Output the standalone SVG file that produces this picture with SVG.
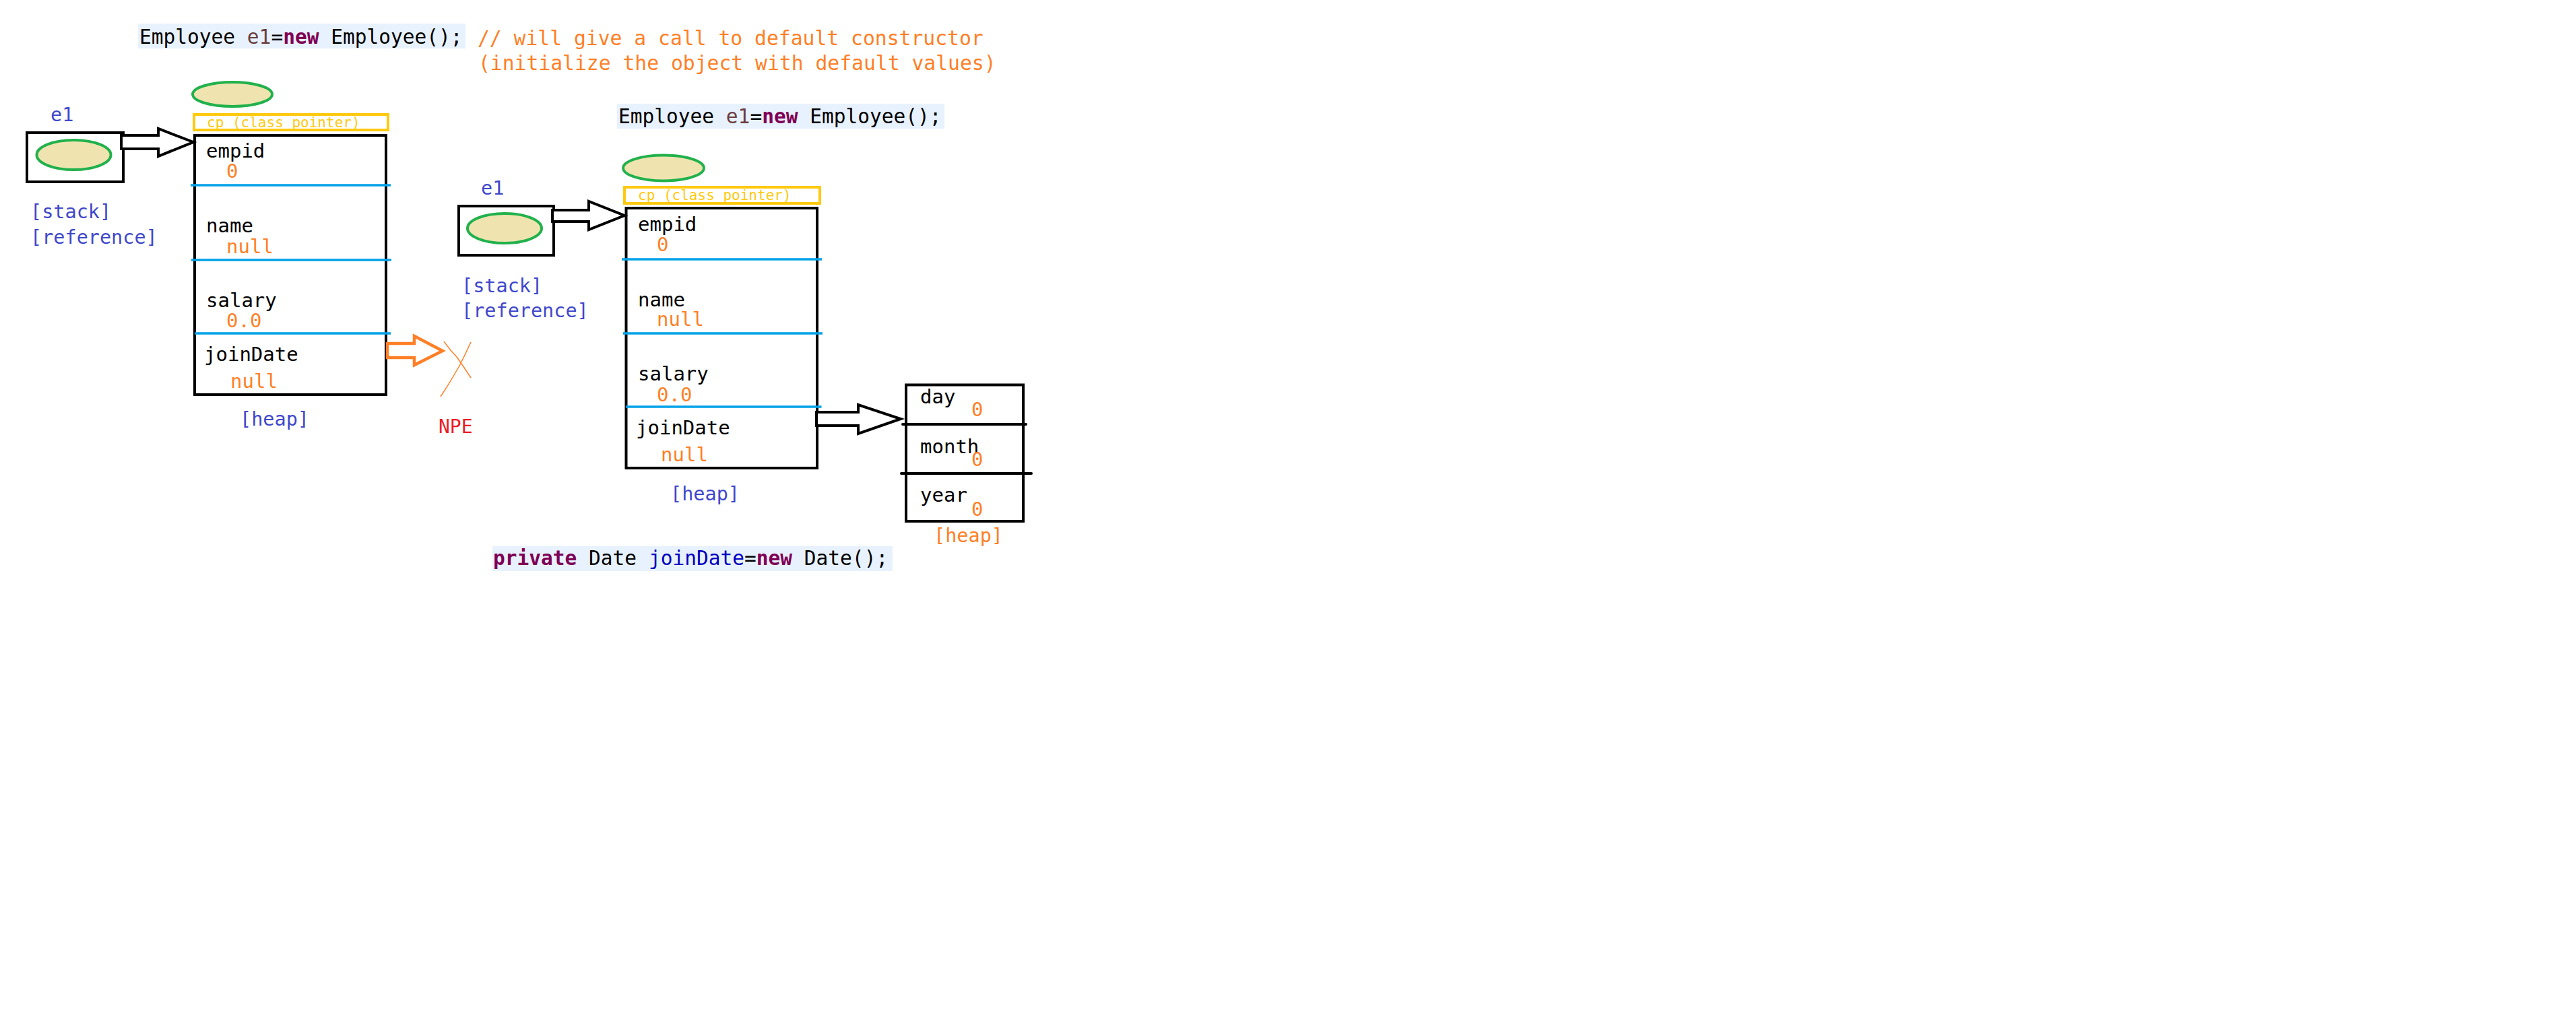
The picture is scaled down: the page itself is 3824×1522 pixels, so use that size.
<svg xmlns="http://www.w3.org/2000/svg" width="3824" height="1522" viewBox="0 0 3824 1522">
<style>
  text { font-family: "DejaVu Sans Mono", "Liberation Mono", monospace; }
  .code { font-size: 29.5px; fill: #000; }
  .kw { fill: #7F0055; font-weight: bold; }
  .var { fill: #6A3E3E; }
  .fld { fill: #0000C0; }
  .cmt { font-size: 29.7px; fill: #FF7F27; }
  .lbl { font-size: 29px; fill: #000; }
  .val { font-size: 29px; fill: #FF7F27; }
  .blue { font-size: 28.5px; fill: #3F48CC; }
  .cp { font-size: 21px; fill: #FFC90E; }
  .npe { font-size: 28px; fill: #ED1C24; }
  .box { fill: none; stroke: #000; stroke-width: 4; }
  .cpbox { fill: none; stroke: #FFC90E; stroke-width: 4; }
  .sep { stroke: #00A2E8; stroke-width: 3.5; }
  .bsep { stroke: #000; stroke-width: 4; stroke-linecap: round; }
  .obj { fill: #EFE4B0; stroke: #22B14C; stroke-width: 4; }
  .arrow { fill: #fff; stroke: #000; stroke-width: 4; stroke-linejoin: miter; }
  .oarrow { fill: #fff; stroke: #FF7F27; stroke-width: 4.5; stroke-linejoin: miter; }
  .codebg { fill: #E8F2FE; }
</style>
<rect width="3824" height="1522" fill="#fff"/>

<g id="code-top">
  <rect class="codebg" x="205" y="35" width="486" height="37"/>
  <text class="code" x="207" y="65" xml:space="preserve">Employee <tspan class="var">e1</tspan>=<tspan class="kw">new</tspan> Employee();</text>
</g>
<g id="comment">
  <text class="cmt" x="709" y="67" xml:space="preserve">// will give a call to default constructor</text>
  <text class="cmt" x="710" y="104" xml:space="preserve">(initialize the object with default values)</text>
</g>

<g id="stack-ref-1">
  <text class="blue" x="75" y="180">e1</text>
  <rect class="box" x="40" y="197" width="143" height="73"/>
  <ellipse class="obj" cx="109.5" cy="230" rx="55" ry="22"/>
  <text class="blue" x="45" y="324">[stack]</text>
  <text class="blue" x="45" y="362">[reference]</text>
</g>

<g id="heap-object-1">
  <ellipse class="obj" cx="345" cy="140" rx="59" ry="18"/>
  <rect class="cpbox" x="288" y="170" width="288" height="23"/>
  <text class="cp" x="307" y="189" xml:space="preserve">cp (class pointer)</text>
  <rect class="box" x="289" y="201" width="284" height="385"/>
  <line class="sep" x1="283" y1="275" x2="580" y2="275"/>
  <line class="sep" x1="284" y1="386" x2="581" y2="386"/>
  <line class="sep" x1="289" y1="495" x2="580" y2="495"/>
  <text class="lbl" x="306" y="234">empid</text>
  <text class="val" x="336" y="264">0</text>
  <text class="lbl" x="306" y="345">name</text>
  <text class="val" x="336" y="376">null</text>
  <text class="lbl" x="306" y="456">salary</text>
  <text class="val" x="336" y="486">0.0</text>
  <text class="lbl" x="303" y="536">joinDate</text>
  <text class="val" x="342" y="576">null</text>
  <text class="blue" x="356" y="632">[heap]</text>
</g>

<g id="npe">
  <path d="M659 507 Q668 520 678 530 Q688 544 699 561" fill="none" stroke="#FF7F27" stroke-width="1.5"/>
  <path d="M699 508 Q690 528 681 545 Q668 568 654 589" fill="none" stroke="#FF7F27" stroke-width="1.5"/>
  <text class="npe" x="651" y="643">NPE</text>
</g>

<g id="code-mid">
  <rect class="codebg" x="916" y="154" width="486" height="37"/>
  <text class="code" x="918" y="183" xml:space="preserve">Employee <tspan class="var">e1</tspan>=<tspan class="kw">new</tspan> Employee();</text>
</g>

<g id="stack-ref-2">
  <text class="blue" x="714" y="289">e1</text>
  <rect class="box" x="681" y="306" width="141" height="73"/>
  <ellipse class="obj" cx="749" cy="339" rx="55" ry="22"/>
  <text class="blue" x="685" y="434">[stack]</text>
  <text class="blue" x="685" y="471">[reference]</text>
</g>

<g id="heap-object-2">
  <ellipse class="obj" cx="985" cy="249.5" rx="60" ry="19"/>
  <rect class="cpbox" x="927" y="278" width="290" height="24"/>
  <text class="cp" x="947" y="297" xml:space="preserve">cp (class pointer)</text>
  <rect class="box" x="929.5" y="309" width="283.5" height="386"/>
  <line class="sep" x1="923" y1="385" x2="1220" y2="385"/>
  <line class="sep" x1="925" y1="495" x2="1221" y2="495"/>
  <line class="sep" x1="929" y1="604" x2="1219.5" y2="604"/>
  <text class="lbl" x="947" y="343">empid</text>
  <text class="val" x="975" y="373">0</text>
  <text class="lbl" x="947" y="455">name</text>
  <text class="val" x="975" y="484">null</text>
  <text class="lbl" x="947" y="565">salary</text>
  <text class="val" x="975" y="596">0.0</text>
  <text class="lbl" x="944" y="645">joinDate</text>
  <text class="val" x="981" y="685">null</text>
  <text class="blue" x="995" y="743">[heap]</text>
</g>

<g id="date-object">
  <rect class="box" x="1345" y="571.5" width="174" height="202.5"/>
  <line class="bsep" x1="1340" y1="630" x2="1523" y2="630"/>
  <line class="bsep" x1="1338" y1="703" x2="1531" y2="703"/>
  <text class="lbl" x="1366" y="599">day</text>
  <text class="val" x="1442" y="618">0</text>
  <text class="lbl" x="1366" y="673">month</text>
  <text class="val" x="1442" y="692">0</text>
  <text class="lbl" x="1366" y="745">year</text>
  <text class="val" x="1442" y="766">0</text>
  <text class="blue" x="1386" y="805" style="fill:#FF7F27">[heap]</text>
</g>

<g id="code-bottom">
  <rect class="codebg" x="731" y="811" width="594" height="37"/>
  <text class="code" x="732" y="839" xml:space="preserve"><tspan class="kw">private</tspan> Date <tspan class="fld">joinDate</tspan>=<tspan class="kw">new</tspan> Date();</text>
</g>

<g id="connectors">
  <polygon class="arrow" points="180,201 235,201 235,191 287,211 235,232 235,221 180,221"/>
  <polygon class="arrow" points="820,312 874,312 874,299 927,320 874,341 874,329 820,329"/>
  <polygon class="arrow" points="1212,612 1274,612 1274,601 1337,622 1274,644 1274,632 1212,632"/>
  <polygon class="oarrow" points="575,510 615,510 615,499 657,521 615,542 615,531 575,531"/>
</g>
</svg>
